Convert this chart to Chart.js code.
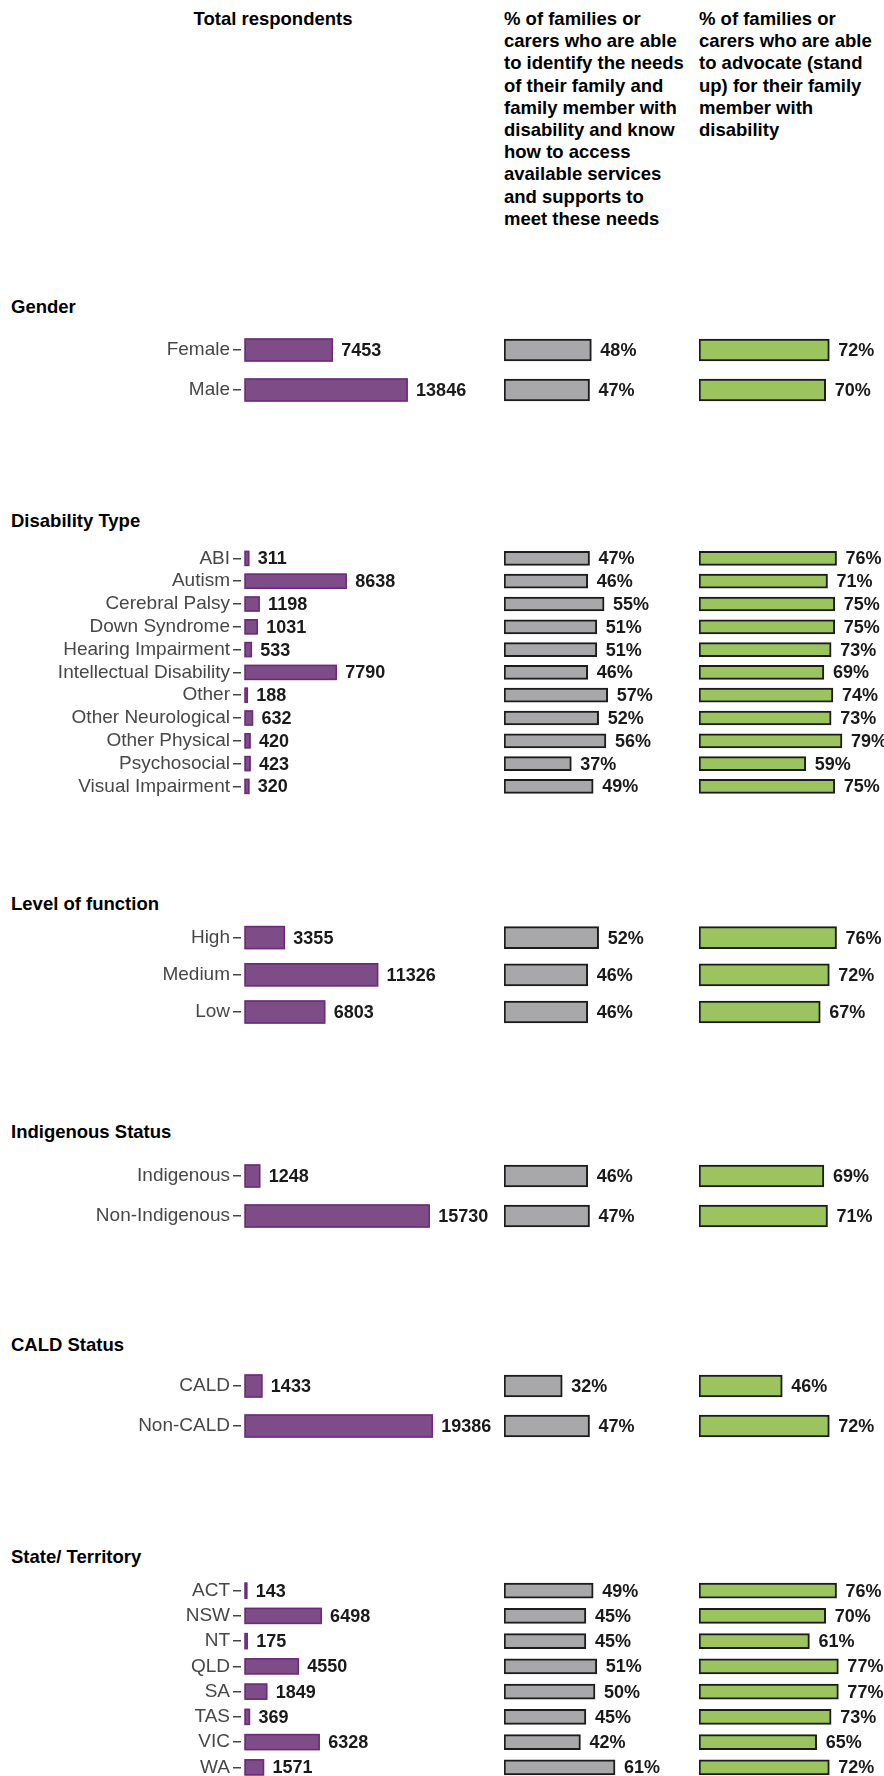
<!DOCTYPE html>
<html><head><meta charset="utf-8">
<script src="https://cdn.jsdelivr.net/npm/chart.js@4.4.1/dist/chart.umd.min.js"></script>
<style>
html,body{margin:0;padding:0;background:#fff;width:884px;height:1776px;overflow:hidden;position:relative;font-family:"Liberation Sans",Arial,sans-serif;}
.hdr{position:absolute;font-weight:bold;font-size:18.5px;line-height:22.2px;color:#000;white-space:nowrap;}
.sec{position:absolute;left:11px;font-weight:bold;font-size:18.5px;line-height:22px;color:#000;white-space:nowrap;}
canvas{position:absolute;}
</style></head><body>
<div class="hdr" style="left:163px;top:8px;width:220px;text-align:center;">Total respondents</div>
<div class="hdr" style="left:504px;top:8px;">% of families or<br>carers who are able<br>to identify the needs<br>of their family and<br>family member with<br>disability and know<br>how to access<br>available services<br>and supports to<br>meet these needs</div>
<div class="hdr" style="left:699px;top:8px;">% of families or<br>carers who are able<br>to advocate (stand<br>up) for their family<br>member with<br>disability</div>
<script>
// ---------- DATA ----------
const genderLabels = ['Female', 'Male'];
const genderTotal = [7453, 13846];
const genderIdentify = [48, 47];
const genderAdvocate = [72, 70];

const disabilityLabels = ['ABI', 'Autism', 'Cerebral Palsy', 'Down Syndrome', 'Hearing Impairment', 'Intellectual Disability', 'Other', 'Other Neurological', 'Other Physical', 'Psychosocial', 'Visual Impairment'];
const disabilityTotal = [311, 8638, 1198, 1031, 533, 7790, 188, 632, 420, 423, 320];
const disabilityIdentify = [47, 46, 55, 51, 51, 46, 57, 52, 56, 37, 49];
const disabilityAdvocate = [76, 71, 75, 75, 73, 69, 74, 73, 79, 59, 75];

const functionLabels = ['High', 'Medium', 'Low'];
const functionTotal = [3355, 11326, 6803];
const functionIdentify = [52, 46, 46];
const functionAdvocate = [76, 72, 67];

const indigenousLabels = ['Indigenous', 'Non-Indigenous'];
const indigenousTotal = [1248, 15730];
const indigenousIdentify = [46, 47];
const indigenousAdvocate = [69, 71];

const caldLabels = ['CALD', 'Non-CALD'];
const caldTotal = [1433, 19386];
const caldIdentify = [32, 47];
const caldAdvocate = [46, 72];

const stateLabels = ['ACT', 'NSW', 'NT', 'QLD', 'SA', 'TAS', 'VIC', 'WA'];
const stateTotal = [143, 6498, 175, 4550, 1849, 369, 6328, 1571];
const stateIdentify = [49, 45, 45, 51, 50, 45, 42, 61];
const stateAdvocate = [76, 70, 61, 77, 77, 73, 65, 72];

const sectionTitles = ['Gender', 'Disability Type', 'Level of function', 'Indigenous Status', 'CALD Status', 'State/ Territory'];

// ---------- LAYOUT ----------
const sections = [
  {title: sectionTitles[0], labels: genderLabels, total: genderTotal, identify: genderIdentify, advocate: genderAdvocate, titleY: 307, first: 349.5, band: 40, thick: 22},
  {title: sectionTitles[1], labels: disabilityLabels, total: disabilityTotal, identify: disabilityIdentify, advocate: disabilityAdvocate, titleY: 520.5, first: 558.5, band: 22.8, thick: 14},
  {title: sectionTitles[2], labels: functionLabels, total: functionTotal, identify: functionIdentify, advocate: functionAdvocate, titleY: 904, first: 937.5, band: 37.2, thick: 22},
  {title: sectionTitles[3], labels: indigenousLabels, total: indigenousTotal, identify: indigenousIdentify, advocate: indigenousAdvocate, titleY: 1132, first: 1176, band: 40, thick: 22},
  {title: sectionTitles[4], labels: caldLabels, total: caldTotal, identify: caldIdentify, advocate: caldAdvocate, titleY: 1345, first: 1386, band: 40, thick: 22},
  {title: sectionTitles[5], labels: stateLabels, total: stateTotal, identify: stateIdentify, advocate: stateAdvocate, titleY: 1556.5, first: 1590.5, band: 25.25, thick: 15}
];

const FONT = '"Liberation Sans", Arial, sans-serif';
const PAD = 16;

const valueLabels = {
  id: 'valueLabels',
  afterDatasetsDraw(chart, args, opts) {
    const ctx = chart.ctx;
    const meta = chart.getDatasetMeta(0);
    const data = chart.data.datasets[0].data;
    const area = chart.chartArea;
    ctx.save();
    // ggplot-style outline, centred on the bar edges
    if (opts.outline) {
      ctx.strokeStyle = opts.outline;
      ctx.lineWidth = opts.outlineWidth;
      meta.data.forEach((bar) => {
        const x0 = Math.min(bar.base, bar.x);
        const x1 = Math.min(Math.max(bar.base, bar.x), area.right);
        const y0 = bar.y - bar.height / 2;
        ctx.strokeRect(x0, y0, x1 - x0, bar.height);
      });
    }
    ctx.font = 'bold 18px ' + FONT;
    ctx.fillStyle = '#1a1a1a';
    ctx.textBaseline = 'middle';
    ctx.textAlign = 'left';
    meta.data.forEach((bar, i) => {
      const x = Math.min(bar.x, area.right) + 9;
      ctx.fillText(String(data[i]) + (opts.suffix || ''), x, bar.y + 1);
    });
    ctx.restore();
  }
};

function addChart(sec, kind) {
  const n = sec.labels.length;
  const cv = document.createElement('canvas');
  let left, width, padRight, values, fill, stroke, bw, xmin, xmax, suffix, showY, outline = null;
  if (kind === 'total') {
    left = 0; width = 500; padRight = 500 - 432.3; values = sec.total;
    fill = '#7e4c87'; stroke = '#6a2c78'; bw = 0; xmin = -350; xmax = 16000; suffix = ''; showY = true;
    outline = '#6a2c78';
  } else if (kind === 'identify') {
    left = 504; width = 200; padRight = 200 - 182; values = sec.identify;
    fill = '#a8a8aa'; stroke = '#1c1c1c'; bw = 2; xmin = 0; xmax = 100; suffix = '%'; showY = false;
  } else {
    left = 699; width = 200; padRight = 200 - 181; values = sec.advocate;
    fill = '#9bc45f'; stroke = '#1c1c1c'; bw = 2; xmin = 0; xmax = 100; suffix = '%'; showY = false;
  }
  const areaTop = sec.first - sec.band / 2;
  const height = Math.round(n * sec.band + 2 * PAD);
  cv.width = width; cv.height = height;
  cv.style.left = left + 'px';
  cv.style.top = (areaTop - PAD) + 'px';
  cv.style.width = width + 'px';
  cv.style.height = height + 'px';
  document.body.appendChild(cv);
  const yScale = {
    display: showY,
    ticks: {font: {family: FONT, size: 19}, color: '#474747', padding: 3, autoSkip: false},
    grid: {offset: false, drawOnChartArea: false, drawTicks: true, tickLength: 8, color: '#444', lineWidth: 1.5},
    border: {display: false}
  };
  if (showY) yScale.afterFit = (s) => { s.width = 241; };
  new Chart(cv, {
    type: 'bar',
    data: {
      labels: sec.labels,
      datasets: [{
        data: values,
        backgroundColor: fill,
        borderColor: stroke,
        borderWidth: bw,
        borderSkipped: false,
        barThickness: sec.thick,
        clip: 0
      }]
    },
    options: {
      indexAxis: 'y',
      responsive: false,
      animation: false,
      devicePixelRatio: 1,
      layout: {padding: {top: PAD, bottom: height - PAD - n * sec.band, left: 0, right: padRight}},
      plugins: {legend: {display: false}, tooltip: {enabled: false},
        valueLabels: {suffix: suffix, outline: outline, outlineWidth: 1.6}},
      scales: {
        x: {display: false, min: xmin, max: xmax},
        y: yScale
      }
    },
    plugins: [valueLabels]
  });
}

sections.forEach(sec => {
  const t = document.createElement('div');
  t.className = 'sec';
  t.style.top = (sec.titleY - 11) + 'px';
  t.textContent = sec.title;
  document.body.appendChild(t);
  addChart(sec, 'total');
  addChart(sec, 'identify');
  addChart(sec, 'advocate');
});
</script>
</body></html>
